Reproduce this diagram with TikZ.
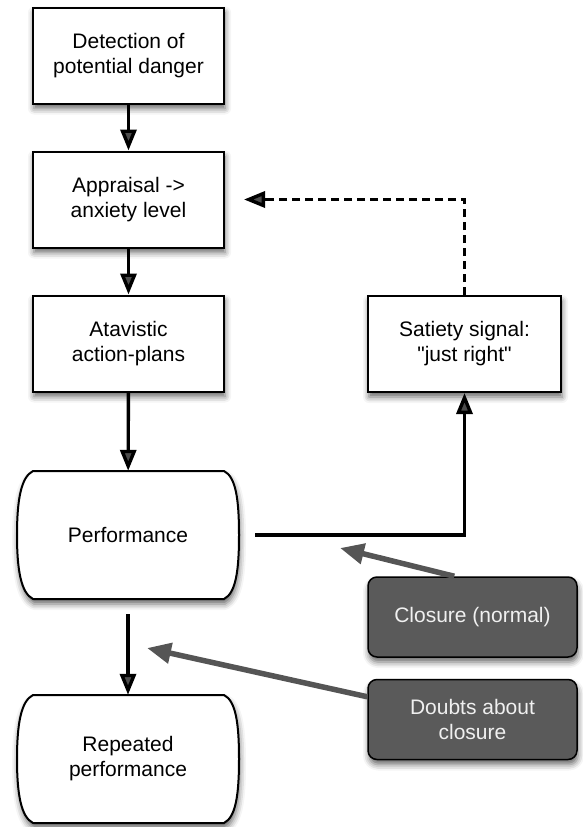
\documentclass[tikz,border=0pt]{standalone}
\usepackage{fontspec}
\setmainfont{Liberation Sans}[Ligatures=TeXOff]
\usetikzlibrary{arrows.meta,shadows.blur,calc}
\definecolor{darkbox}{HTML}{5A5A5A}
\definecolor{grayarrow}{HTML}{555555}
\definecolor{lighttext}{HTML}{F0F0F0}
\tikzset{
  shadowed/.style={blur shadow={shadow xshift=1pt,shadow yshift=-5pt,shadow blur radius=6pt,shadow opacity=60}},
  procbox/.style={draw=black,line width=2pt,fill=white,minimum width=191pt,minimum height=96pt,align=center,font=\fontsize{21}{25}\selectfont,shadowed},
  notebox/.style={draw=black,line width=1.5pt,fill=darkbox,rounded corners=9pt,minimum width=209pt,minimum height=80pt,align=center,text=lighttext,font=\fontsize{21}{25}\selectfont,shadowed},
  termshape/.style={draw=black,line width=2pt,fill=white,shadowed},
  termtext/.style={minimum width=222pt,minimum height=128pt,align=center,font=\fontsize{21}{25}\selectfont},
  flow/.style={line width=3.4pt,-{Triangle[length=21pt,width=16pt]}},
  dashline/.style={line width=3.4pt,dash pattern=on 8pt off 5pt},
  influence/.style={line width=5.5pt,grayarrow,-{Triangle[length=24pt,width=20pt]}}
}
\begin{document}
\begin{tikzpicture}[x=1pt,y=-1pt]
\useasboundingbox (0,0) rectangle (582,827);
% process boxes
\node[procbox] (b1) at (128.5,55.5) {Detection of\\potential danger};
\node[procbox] (b2) at (128.5,199.5) {Appraisal ->\\anxiety level};
\node[procbox] (b3) at (128.5,343.5) {Atavistic\\action-plans};
\node[procbox,minimum width=193pt] (sat) at (464.5,344) {Satiety signal:\\"just right"};
% terminal shapes
\path[termshape] (33,471) -- (224,471) .. controls (236,477) and (239,500) .. (239,535)
  .. controls (239,570) and (236,593) .. (224,599) -- (33,599)
  .. controls (21,593) and (17,570) .. (17,535) .. controls (17,500) and (21,477) .. (33,471) -- cycle;
\node[termtext] (perf) at (128,535) {Performance};
\path[termshape] (33,695) -- (224,695) .. controls (236,701) and (239,724) .. (239,759)
  .. controls (239,794) and (236,817) .. (224,823) -- (33,823)
  .. controls (21,817) and (17,794) .. (17,759) .. controls (17,724) and (21,701) .. (33,695) -- cycle;
\node[termtext] (rep) at (128,759) {Repeated\\performance};
% note boxes
\node[notebox] (clos) at (472.5,617) {Closure (normal)};
\node[notebox] (doubt) at (472.5,719.5) {Doubts about\\closure};
% flow arrows
\draw[flow] (b1) -- (b2);
\draw[flow] (b2) -- (b3);
\draw[flow] (b3) -- (perf);
\draw[flow,shorten <=15pt] (perf) -- (rep);
\draw[flow,shorten <=16pt] (perf.east) -| (sat.south);
% feedback (dashed line, solid head)
\coordinate (fbtip) at ([xshift=19pt]b2.east);
\coordinate (fbbase) at ([xshift=46pt]b2.east);
\draw[dashline] (sat.north) |- (fbbase);
\draw[flow] (fbbase) -- (fbtip);
% influence arrows
\coordinate (ctip) at (340,548);
\coordinate (dtip) at (147,648);
\draw[influence] ([xshift=87pt]clos.north west) -- (ctip);
\draw[influence] ([yshift=-18pt]doubt.north west) -- (dtip);
\end{tikzpicture}
\end{document}
